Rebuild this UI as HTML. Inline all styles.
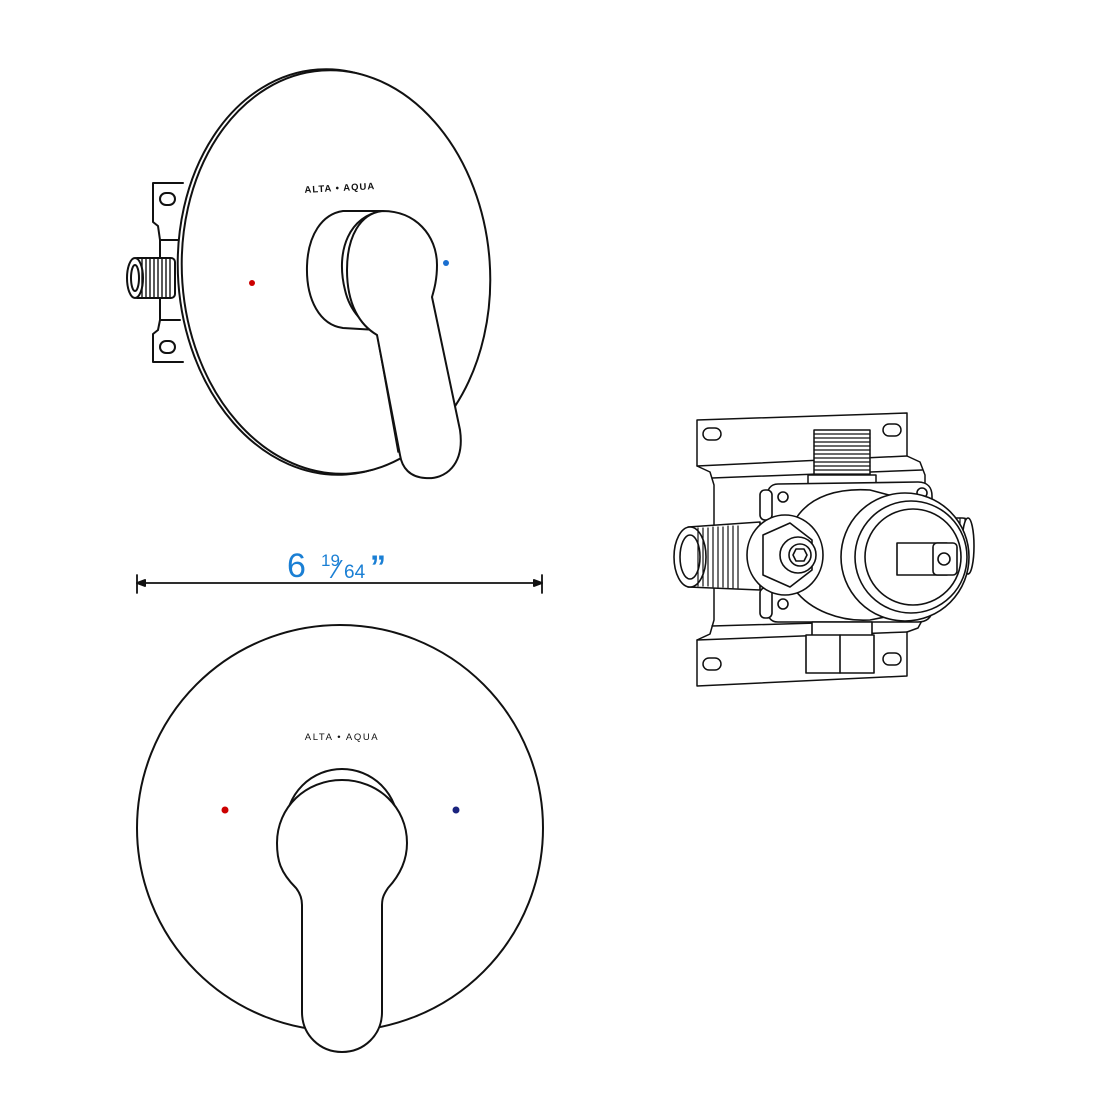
<!DOCTYPE html>
<html><head><meta charset="utf-8"><style>
html,body{margin:0;padding:0;background:#fff}
svg{display:block}
text{font-family:"Liberation Sans",sans-serif}
</style></head><body>
<svg width="1120" height="1120" viewBox="0 0 1120 1120" xmlns="http://www.w3.org/2000/svg" fill="none" stroke="#111" stroke-width="2" stroke-linejoin="round" stroke-linecap="round">
<path d="M183 183 L153 183 L153 222 L158 226 L160 240 L160 320 L158 330 L153 334 L153 362 L183 362" fill="#fff"/>
<path d="M160 240 L180 240 M160 320 L180 320"/>
<rect x="160" y="193" width="15" height="12" rx="6"/>
<rect x="160" y="341" width="15" height="12" rx="6"/>
<g fill="#fff">
<rect x="133" y="258" width="42" height="40" rx="4"/>
<ellipse cx="135" cy="278" rx="8" ry="20"/>
</g>
<g stroke-width="1.4">
<path d="M142 258 v40 M146 258 v40 M150 258 v40 M154 258 v40 M158 258 v40 M162 258 v40 M166 258 v40 M170 258 v40"/>
</g>
<ellipse cx="135" cy="278" rx="4" ry="13"/>
<ellipse cx="332" cy="272" rx="154" ry="203" transform="rotate(-4 332 272)" fill="#fff"/>
<ellipse cx="336" cy="272" rx="154" ry="202" transform="rotate(-4 336 272)" fill="#fff"/>
<text x="340" y="191" font-size="9.5" fill="#111" stroke="none" text-anchor="middle" font-weight="bold" letter-spacing="1" transform="rotate(-3 340 191)">ALTA • AQUA</text>
<circle cx="252" cy="283" r="3" fill="#c00" stroke="none"/>
<circle cx="446" cy="263" r="3" fill="#1a6fd0" stroke="none"/>
<path d="M343 211 L383 211 C 350 215 335 250 345 290 C 350 312 365 326 377 330 L343 328 C 320 325 306 300 307 266 C 308 235 322 214 343 211 Z" fill="#fff"/>
<path d="M383 211 C 415 211 437 235 437 265 C 437 280 434 290 432 297 L460 430 C 465 465 445 480 425 478 C 410 477 402 468 400 455 L377 335 C 360 325 347 305 347 270 C 347 237 360 213 383 211 Z" fill="#fff"/>
<path d="M377 335 L398 452" stroke-width="1.4"/>
<path d="M137 583 H542 M137 575 V593 M542 575 V593" stroke-width="1.8"/>
<path d="M137 583 l8 -3 v6 z M542 583 l-8 -3 v6 z" fill="#111"/>
<g fill="#1a7fd4" stroke="none">
<text x="287" y="577" font-size="34">6</text>
<text x="321" y="566" font-size="17">19</text>
<text x="335" y="578" font-size="26">⁄</text>
<text x="344" y="578" font-size="19">64</text>
<text x="370" y="578" font-size="32" font-weight="bold">”</text>
</g>
<circle cx="340" cy="828" r="203" fill="#fff"/>
<text x="342" y="740" font-size="9.5" fill="#111" stroke="none" text-anchor="middle" letter-spacing="1.6">ALTA • AQUA</text>
<circle cx="225" cy="810" r="3.5" fill="#c00" stroke="none"/>
<circle cx="456" cy="810" r="3.5" fill="#1a237e" stroke="none"/>
<circle cx="342" cy="825" r="56" fill="#fff"/>
<path d="M296 888 C 280 872 277 860 277 843 C 277 807 306 780 342 780 C 378 780 407 807 407 843 C 407 860 400 875 388 888 C 384 894 382 898 382 905 L382 1012 C 382 1035 364 1052 342 1052 C 320 1052 302 1035 302 1012 L302 905 C 302 898 300 893 296 888 Z" fill="#fff"/>
<g fill="#fff" stroke-width="1.5">
<path d="M697 420 L907 413 L907 456 L920 462 L925 475 L925 615 L918 628 L907 632 L907 676 L697 686 L697 640 L710 634 L714 620 L714 485 L710 472 L697 466 Z"/>
<path d="M697 466 L907 456 M697 640 L907 632 M712 478 L922 470 M712 626 L922 620"/>
<rect x="703" y="428" width="18" height="12" rx="6"/>
<rect x="883" y="424" width="18" height="12" rx="6"/>
<rect x="703" y="658" width="18" height="12" rx="6"/>
<rect x="883" y="653" width="18" height="12" rx="6"/>
<rect x="814" y="430" width="56" height="48"/>
<rect x="808" y="475" width="68" height="10"/>
</g>
<g stroke-width="1.3">
<path d="M814 434h56M814 438h56M814 442h56M814 446h56M814 450h56M814 454h56M814 458h56M814 462h56M814 466h56M814 470h56M814 474h56"/>
</g>
<g fill="#fff" stroke-width="1.6">
<path d="M778 484 L918 482 C 928 482 932 488 932 496 L932 610 C 932 618 926 622 918 622 L778 622 C 770 622 767 616 767 608 L767 498 C 767 490 770 484 778 484 Z"/>
<rect x="760" y="490" width="12" height="30" rx="5"/>
<rect x="760" y="588" width="12" height="30" rx="5"/>
<rect x="940" y="518" width="30" height="56" rx="8"/>
</g>
<g stroke-width="1.2"><path d="M945 518v56M950 518v56M955 518v56M960 518v56M965 518v56"/></g>
<g fill="#fff" stroke-width="1.6">
<ellipse cx="968" cy="546" rx="6" ry="28"/>
<path d="M795 520 C 810 495 840 488 870 490 L900 498 L900 614 L870 620 C 840 622 810 610 795 590 Z"/>
<circle cx="783" cy="497" r="5"/><circle cx="783" cy="604" r="5"/>
<circle cx="922" cy="493" r="5"/>
<circle cx="905" cy="557" r="64"/>
<circle cx="911" cy="557" r="56"/>
<circle cx="913" cy="557" r="48"/>
<rect x="897" y="543" width="50" height="32"/>
<rect x="933" y="543" width="24" height="32" rx="4"/>
<circle cx="944" cy="559" r="6"/>
<rect x="812" y="622" width="60" height="14"/>
<rect x="806" y="635" width="68" height="38"/>
<path d="M840 635 V673"/>
<path d="M688 527 L760 522 L760 590 L688 587 Z"/>
<ellipse cx="690" cy="557" rx="16" ry="30"/>
<ellipse cx="690" cy="557" rx="10" ry="22"/>
</g>
<g stroke-width="1.2"><path d="M698 528v58M703 528v58M708 528v58M713 527v60M718 527v60M723 527v60M728 526v62M733 526v62M738 526v62"/></g>
<g fill="#fff" stroke-width="1.6">
<ellipse cx="785" cy="555" rx="38" ry="40"/>
<path d="M763 535 L790 523 L812 540 L812 570 L790 587 L763 575 Z"/>
<circle cx="798" cy="555" r="18"/>
<circle cx="800" cy="555" r="11"/>
<path d="M796 549 h8 l3 6 -3 6 h-8 l-3 -6 z"/>
</g>
</svg>
</body></html>
